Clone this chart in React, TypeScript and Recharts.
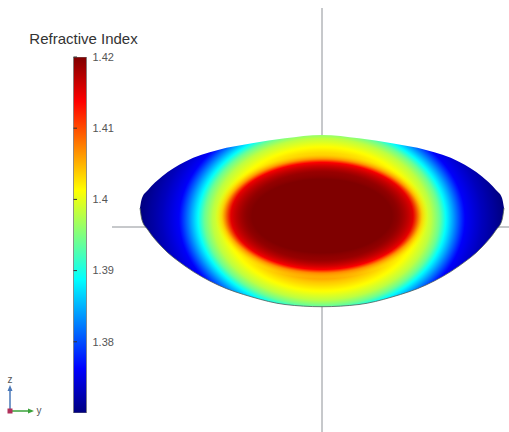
import React from "react";
import {
  ComposedChart,
  Area,
  Line,
  XAxis,
  YAxis,
  ReferenceLine,
  BarChart,
  Bar,
} from "recharts";

const FONT = '"Liberation Sans", Arial, sans-serif';

/* lens cross-section (y, z in mm) */
const LENS_Y = [-1.82, -1.8, -1.74, -1.6, -1.37, -1.04, -0.7, -0.37, 0, 0.37, 0.7, 1.04, 1.37, 1.6, 1.74, 1.8, 1.82];
const LENS_TOP = [0.19, 0.29, 0.37, 0.505, 0.653, 0.77, 0.837, 0.887, 0.92, 0.887, 0.837, 0.77, 0.653, 0.505, 0.37, 0.29, 0.19];
const LENS_BOTTOM = [0.19, 0.07, -0.03, -0.2, -0.39, -0.58, -0.7, -0.775, -0.797, -0.775, -0.7, -0.58, -0.39, -0.2, -0.03, 0.07, 0.19];

/* colour scale */
const N_MIN = 1.37;
const N_MAX = 1.42;
const N_TICKS = [1.38, 1.39, 1.4, 1.41, 1.42];
const JET_POS = [0, 0.125, 0.375, 0.625, 0.875, 1];
const JET_RGB = [
  [0, 0, 127],
  [0, 0, 255],
  [0, 255, 255],
  [255, 255, 0],
  [255, 0, 0],
  [127, 0, 0],
];

/* index profile: normalised radius -> n (three layers, outer / mid / core) */
const OUTER_R = [0, 0.3, 0.4, 0.47, 0.54, 0.6, 0.645, 0.68, 0.786, 0.88, 1];
const OUTER_N = [1.42, 1.414, 1.408, 1.404, 1.401, 1.398, 1.394, 1.389, 1.376, 1.373, 1.37];
const MID_R = [0, 0.7, 0.85, 0.906, 1];
const MID_N = [1.42, 1.419, 1.414, 1.407, 1.401];
const MID_A = [1, 1, 1, 0.85, 0];
const CORE_R = [0, 0.7, 1];
const CORE_N = [1.425, 1.42, 1.417];
const CORE_A = [1, 1, 0];

const LAYERS = [
  { id: "n-outer", r: OUTER_R, n: OUTER_N, a: OUTER_R.map(() => 1), radius: 1.82, aspect: 1.35, z0: 0.08 },
  { id: "n-mid", r: MID_R, n: MID_N, a: MID_A, radius: 1.07, aspect: 1.7, z0: 0.11 },
  { id: "n-core", r: CORE_R, n: CORE_N, a: CORE_A, radius: 1.0, aspect: 1.9, z0: 0.11 },
];

const VIEW_Y: [number, number] = [-3.22, 1.87];
const VIEW_Z: [number, number] = [-2.05, 2.27];

const lensData = LENS_Y.map((y, i) => ({
  y,
  band: [LENS_BOTTOM[i], LENS_TOP[i]],
  bottom: LENS_BOTTOM[i],
}));

const colorbarData = [{ name: "n", span: [N_MIN, N_MAX] }];

function jet(n: number) {
  const f = Math.min(1, Math.max(0, (n - N_MIN) / (N_MAX - N_MIN)));
  let i = 0;
  while (i < JET_POS.length - 2 && f > JET_POS[i + 1]) i++;
  const t = (f - JET_POS[i]) / (JET_POS[i + 1] - JET_POS[i]);
  const c = JET_RGB[i].map((v, k) => Math.round(v + (JET_RGB[i + 1][k] - v) * t));
  return `rgb(${c[0]},${c[1]},${c[2]})`;
}

function denseStops(rs: number[], ns: number[], as: number[]) {
  const out: { o: number; c: string; a: number }[] = [];
  for (let i = 0; i < rs.length - 1; i++) {
    for (let k = 0; k < 8; k++) {
      const t = k / 8;
      out.push({
        o: rs[i] + (rs[i + 1] - rs[i]) * t,
        c: jet(ns[i] + (ns[i + 1] - ns[i]) * t),
        a: as[i] + (as[i + 1] - as[i]) * t,
      });
    }
  }
  const last = rs.length - 1;
  out.push({ o: rs[last], c: jet(ns[last]), a: as[last] });
  return out;
}

function FieldGradients() {
  const yMin = Math.min(...LENS_Y);
  const yMax = Math.max(...LENS_Y);
  const zTop = Math.max(...LENS_TOP);
  const zBot = Math.min(...LENS_BOTTOM);
  const w = yMax - yMin;
  const h = zTop - zBot;
  return (
    <defs>
      {LAYERS.map((l) => {
        const cx = (0 - yMin) / w;
        const cy = (zTop - l.z0) / h;
        const rx = l.radius / w;
        const ry = l.radius / l.aspect / h;
        return (
          <radialGradient
            key={l.id}
            id={l.id}
            gradientUnits="objectBoundingBox"
            cx="0"
            cy="0"
            r="1"
            gradientTransform={`translate(${cx} ${cy}) scale(${rx} ${ry})`}
          >
            {denseStops(l.r, l.n, l.a).map((s, i) => (
              <stop key={i} offset={s.o} stopColor={s.c} stopOpacity={s.a} />
            ))}
          </radialGradient>
        );
      })}
    </defs>
  );
}

const ColorbarTick = (props: any) => {
  const { x, y, payload } = props;
  return (
    <g>
      <line x1={x - 19} x2={x - 15.5} y1={y} y2={y} stroke="#333" strokeWidth={1} />
      <text x={x} y={y} dy="0.35em" textAnchor="start" fontSize={11} fill="#555" fontFamily={FONT}>
        {String(payload.value)}
      </text>
    </g>
  );
};

const abs: React.CSSProperties = { position: "absolute", left: 0, top: 0 };

export default function App() {
  return (
    <div style={{ ...abs, width: 509, height: 432, background: "#fff", fontFamily: FONT }}>
      {/* axis cross, behind the lens */}
      <div style={abs}>
        <ComposedChart width={509} height={432} data={lensData} margin={{ top: 0, right: 0, bottom: 0, left: 0 }}>
          <XAxis type="number" dataKey="y" domain={VIEW_Y} hide allowDataOverflow />
          <YAxis type="number" domain={VIEW_Z} hide allowDataOverflow />
          <ReferenceLine segment={[{ x: 0, y: 2.19 }, { x: 0, y: VIEW_Z[0] }]} stroke="#8e9297" strokeWidth={1} />
          <ReferenceLine segment={[{ x: -2.1, y: 0 }, { x: VIEW_Y[1], y: 0 }]} stroke="#8e9297" strokeWidth={1} />
        </ComposedChart>
      </div>

      {/* lens field */}
      <div style={abs}>
        <ComposedChart width={509} height={432} data={lensData} margin={{ top: 0, right: 0, bottom: 0, left: 0 }}>
          <FieldGradients />
          <XAxis type="number" dataKey="y" domain={VIEW_Y} hide allowDataOverflow />
          <YAxis type="number" domain={VIEW_Z} hide allowDataOverflow />
          {LAYERS.map((l) => (
            <Area
              key={l.id}
              type="monotone"
              dataKey="band"
              stroke="none"
              fill={`url(#${l.id})`}
              fillOpacity={1}
              isAnimationActive={false}
            />
          ))}
          <Line
            type="monotone"
            dataKey="bottom"
            stroke="#4f5d56"
            strokeWidth={0.8}
            dot={false}
            activeDot={false}
            isAnimationActive={false}
          />
        </ComposedChart>
      </div>

      {/* colour legend */}
      <div style={abs}>
        <BarChart
          width={140}
          height={432}
          data={colorbarData}
          barCategoryGap={0}
          margin={{ top: 57, right: 13.5, bottom: 19, left: 73.5 }}
        >
          <defs>
            <linearGradient id="jet" x1="0" y1="0" x2="0" y2="1">
              {JET_POS.map((p, i) => (
                <stop key={i} offset={1 - p} stopColor={jet(N_MIN + p * (N_MAX - N_MIN))} />
              )).reverse()}
            </linearGradient>
          </defs>
          <XAxis dataKey="name" hide />
          <YAxis
            orientation="right"
            width={40}
            domain={[N_MIN, N_MAX]}
            ticks={N_TICKS}
            interval={0}
            axisLine={false}
            tickLine={false}
            tickSize={6}
            tickMargin={0}
            tick={ColorbarTick}
            allowDataOverflow
          />
          <Bar dataKey="span" fill="url(#jet)" stroke="#7a7a7a" strokeWidth={0.8} isAnimationActive={false} />
        </BarChart>
      </div>

      {/* title and view triad */}
      <svg width={509} height={432} style={{ ...abs, pointerEvents: "none" }}>
        <text x={83.5} y={44} textAnchor="middle" fontSize={15} fill="#333" fontFamily={FONT}>
          Refractive Index
        </text>
        <line x1={10} y1={411} x2={10} y2={390} stroke="#4a78b8" strokeWidth={1.5} />
        <polygon points="10,385 7.5,391 12.5,391" fill="#4a78b8" />
        <line x1={10} y1={411} x2={29} y2={411} stroke="#3aa23a" strokeWidth={1.5} />
        <polygon points="34,411 28,408.5 28,413.5" fill="#3aa23a" />
        <rect x={7.5} y={408.5} width={5} height={5} fill="#b0305a" />
        <text x={10} y={383} textAnchor="middle" fontSize={10} fill="#555" fontFamily={FONT}>
          z
        </text>
        <text x={36.5} y={414} fontSize={10} fill="#555" fontFamily={FONT}>
          y
        </text>
      </svg>
    </div>
  );
}
